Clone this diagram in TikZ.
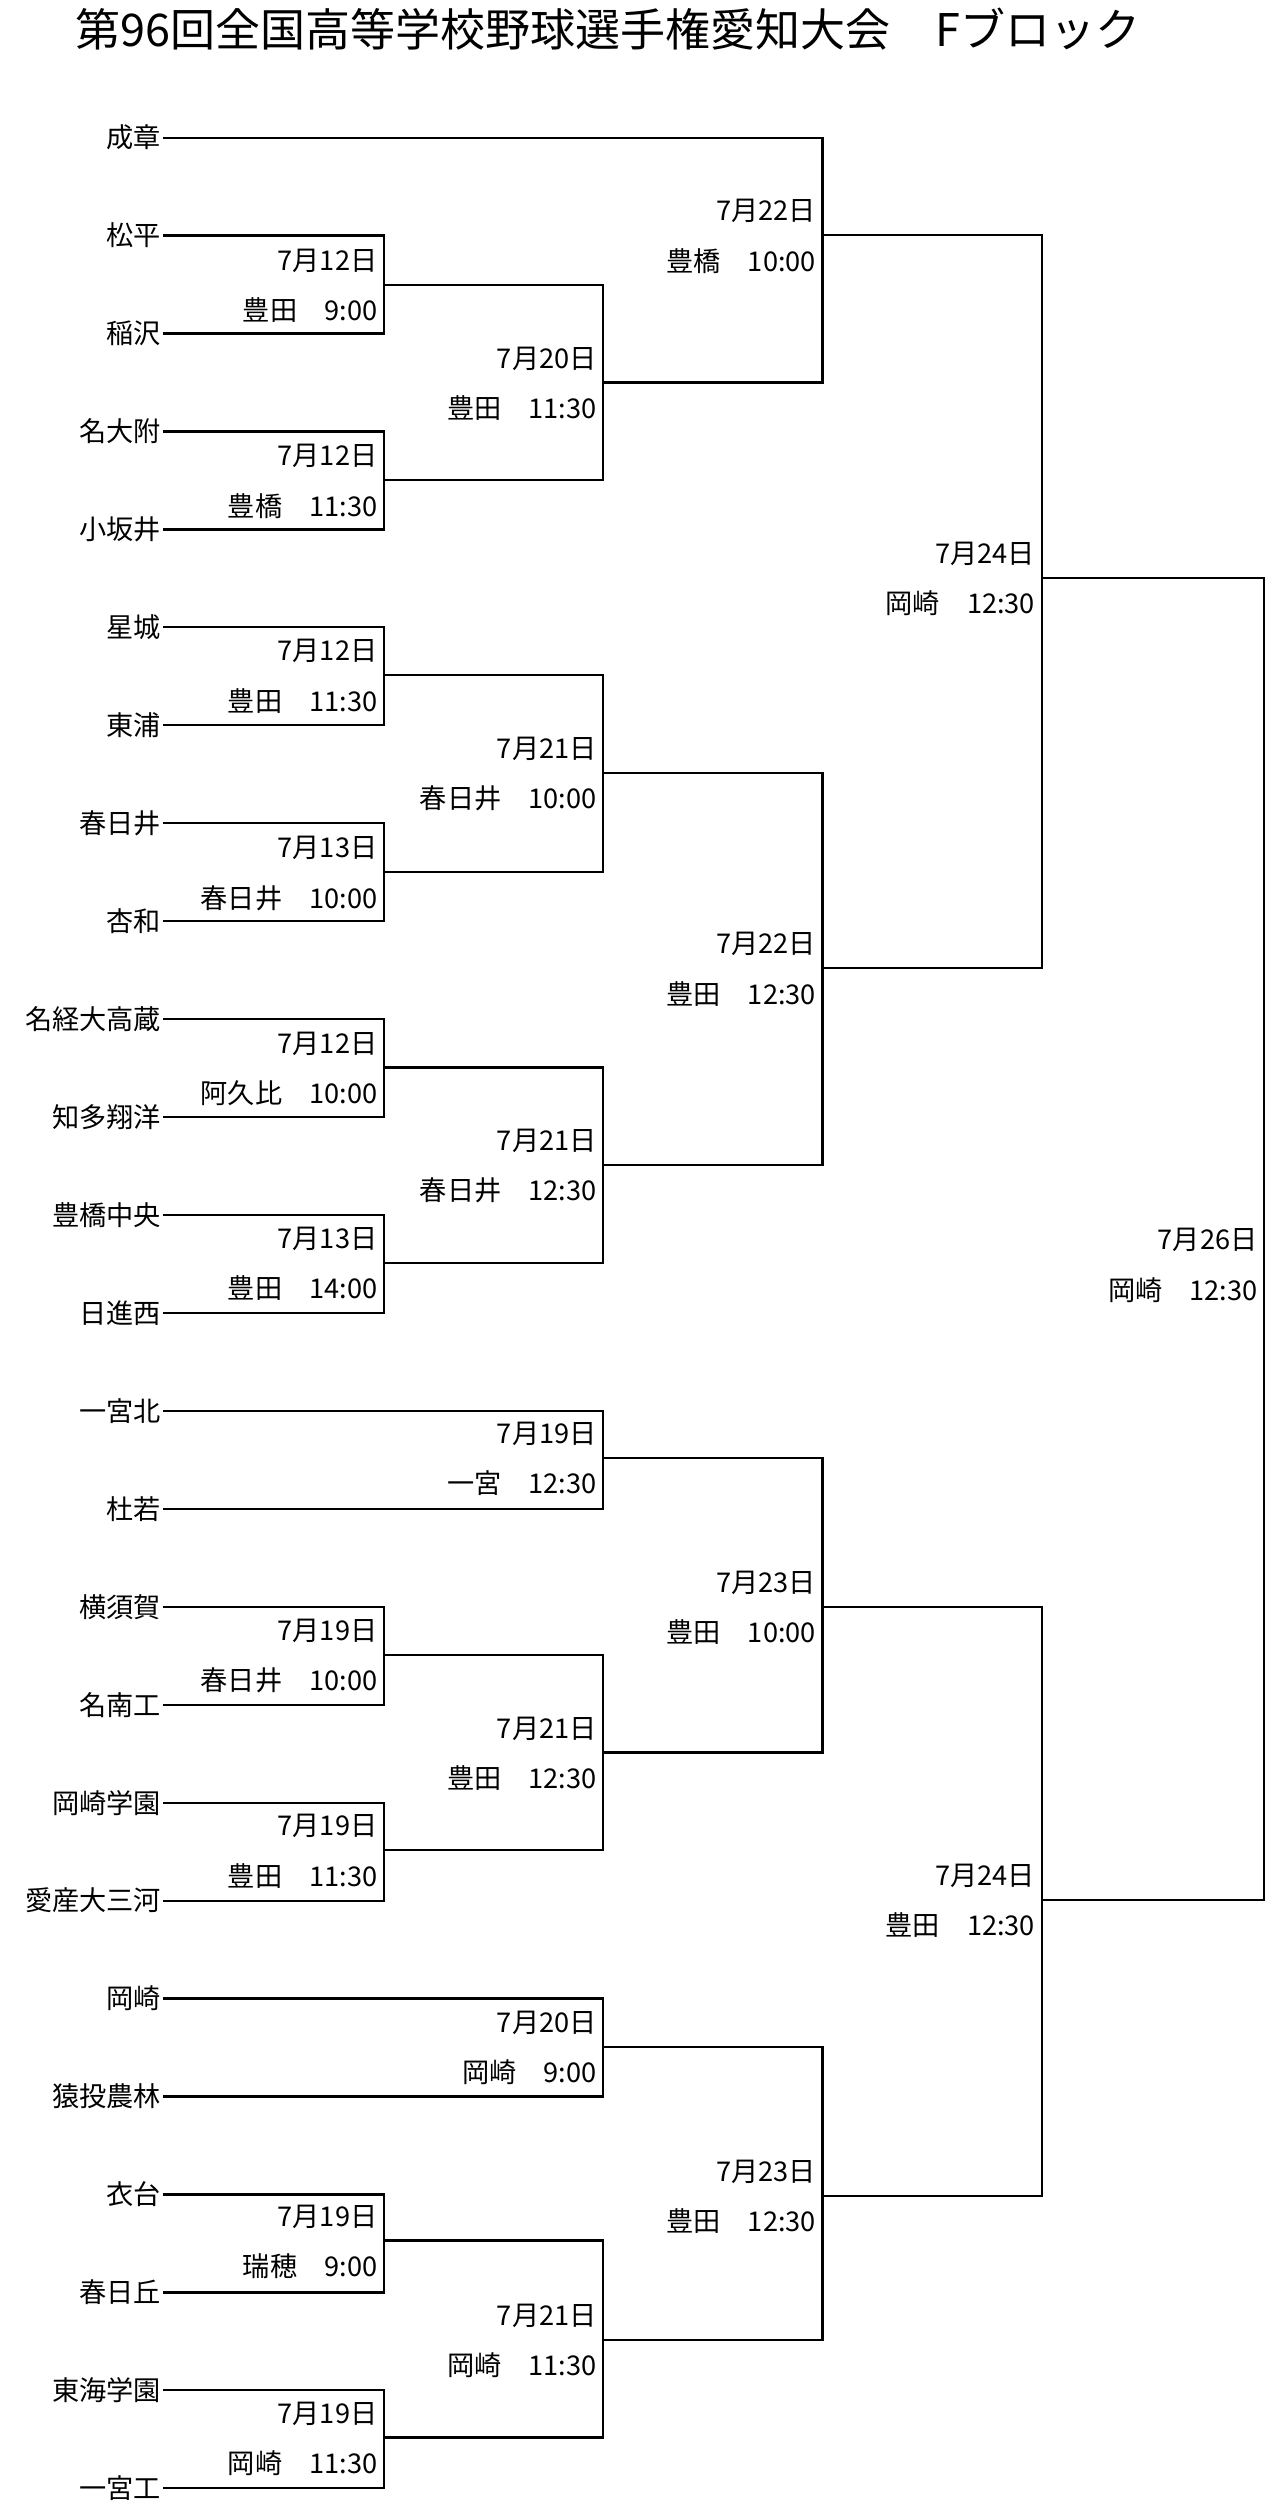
\documentclass[tikz,border=0pt]{standalone}
\usepackage{fontspec}
\setmainfont{Noto Sans CJK JP}
\usetikzlibrary{calc}

\tikzset{
  team/.style={anchor=east,inner sep=1pt,font=\fontsize{14.5}{16}\selectfont},
  lbl/.style={anchor=east,inner sep=0pt,font=\fontsize{14.5}{16}\selectfont},
  wire/.style={line width=1.2pt}
}
% a match: name, x, y, date, venue
\newcommand{\match}[5]{%
  \coordinate (#1) at (#2,#3);
  \node[lbl] (#1d) at ($(#1)+(-4,-15)$) {#4};
  \node[lbl] (#1v) at ($(#1)+(-4,16)$) {#5};
}

\begin{document}
\begin{tikzpicture}[x=0.03cm,y=-0.03cm]
  \useasboundingbox (0,0) rectangle (800,1574);

  \node[font=\fontsize{24}{28}\selectfont] (title) at (380,18) {第96回全国高等学校野球選手権愛知大会\quad Fブロック};

  \foreach \name [count=\i from 0] in {成章,松平,稲沢,名大附,小坂井,星城,東浦,春日井,杏和,名経大高蔵,知多翔洋,豊橋中央,日進西,一宮北,杜若,横須賀,名南工,岡崎学園,愛産大三河,岡崎,猿投農林,衣台,春日丘,東海学園,一宮工}
    \node[team] (t\i) at (102,{86+61.2*\i}) {\name};

  % first round
  \match{a}{240}{178}{7月12日}{豊田\quad 9:00}
  \match{b}{240}{300}{7月12日}{豊橋\quad 11:30}
  \match{c}{240}{422}{7月12日}{豊田\quad 11:30}
  \match{d}{240}{545}{7月13日}{春日井\quad 10:00}
  \match{e}{240}{667}{7月12日}{阿久比\quad 10:00}
  \match{f}{240}{789}{7月13日}{豊田\quad 14:00}
  \match{g}{240}{1034}{7月19日}{春日井\quad 10:00}
  \match{h}{240}{1156}{7月19日}{豊田\quad 11:30}
  \match{i}{240}{1400}{7月19日}{瑞穂\quad 9:00}
  \match{j}{240}{1523}{7月19日}{岡崎\quad 11:30}
  % second round
  \match{k}{377}{239}{7月20日}{豊田\quad 11:30}
  \match{l}{377}{483}{7月21日}{春日井\quad 10:00}
  \match{m}{377}{728}{7月21日}{春日井\quad 12:30}
  \match{n}{377}{911}{7月19日}{一宮\quad 12:30}
  \match{o}{377}{1095}{7月21日}{豊田\quad 12:30}
  \match{p}{377}{1279}{7月20日}{岡崎\quad 9:00}
  \match{q}{377}{1462}{7月21日}{岡崎\quad 11:30}
  % third round
  \match{r}{514}{147}{7月22日}{豊橋\quad 10:00}
  \match{s}{514}{605}{7月22日}{豊田\quad 12:30}
  \match{u}{514}{1004}{7月23日}{豊田\quad 10:00}
  \match{v}{514}{1372}{7月23日}{豊田\quad 12:30}
  % semifinal, final
  \match{w}{651}{361}{7月24日}{岡崎\quad 12:30}
  \match{x}{651}{1187}{7月24日}{豊田\quad 12:30}
  \match{fin}{790}{790}{7月26日}{岡崎\quad 12:30}

  \begin{scope}[wire]
    \draw (t1.east) -| (a) (t2.east) -| (a);
    \draw (t3.east) -| (b) (t4.east) -| (b);
    \draw (t5.east) -| (c) (t6.east) -| (c);
    \draw (t7.east) -| (d) (t8.east) -| (d);
    \draw (t9.east) -| (e) (t10.east) -| (e);
    \draw (t11.east) -| (f) (t12.east) -| (f);
    \draw (t15.east) -| (g) (t16.east) -| (g);
    \draw (t17.east) -| (h) (t18.east) -| (h);
    \draw (t21.east) -| (i) (t22.east) -| (i);
    \draw (t23.east) -| (j) (t24.east) -| (j);

    \draw (a) -| (k) (b) -| (k);
    \draw (c) -| (l) (d) -| (l);
    \draw (e) -| (m) (f) -| (m);
    \draw (t13.east) -| (n) (t14.east) -| (n);
    \draw (g) -| (o) (h) -| (o);
    \draw (t19.east) -| (p) (t20.east) -| (p);
    \draw (i) -| (q) (j) -| (q);

    \draw (t0.east) -| (r) (k) -| (r);
    \draw (l) -| (s) (m) -| (s);
    \draw (n) -| (u) (o) -| (u);
    \draw (p) -| (v) (q) -| (v);

    \draw (r) -| (w) (s) -| (w);
    \draw (u) -| (x) (v) -| (x);
    \draw (w) -| (fin) (x) -| (fin);
  \end{scope}
\end{tikzpicture}
\end{document}
